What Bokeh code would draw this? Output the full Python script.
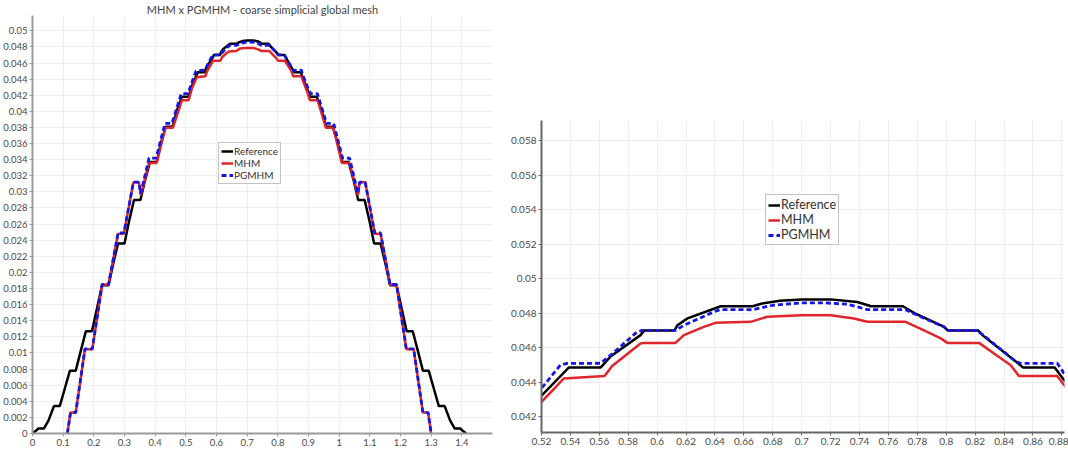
from bokeh.plotting import figure
from bokeh.layouts import row, column
from bokeh.models import FixedTicker, CustomJSTickFormatter, Legend, LegendItem, Spacer
from bokeh.embed import file_html
from bokeh.resources import INLINE

# Profiles along the diagonal cut
ref_x = [0.000, 0.010, 0.019, 0.037, 0.052, 0.070, 0.089, 0.104, 0.122, 0.141,
         0.157, 0.174, 0.194, 0.210, 0.227, 0.248, 0.262, 0.279, 0.300, 0.314,
         0.331, 0.352, 0.366, 0.383, 0.405, 0.418, 0.435, 0.457, 0.470, 0.487,
         0.509, 0.520, 0.539, 0.561, 0.568, 0.5885, 0.591, 0.612, 0.614, 0.621,
         0.644, 0.666, 0.672, 0.685, 0.700, 0.720, 0.7385, 0.748, 0.770, 0.778,
         0.7985, 0.801, 0.822, 0.825, 0.847, 0.853, 0.875, 0.8815, 0.894, 0.905,
         0.927, 0.944, 0.957, 0.979, 0.996, 1.009, 1.031, 1.048, 1.062, 1.083,
         1.100, 1.114, 1.135, 1.152, 1.166, 1.187, 1.204, 1.220, 1.240, 1.257,
         1.273, 1.292, 1.310, 1.325, 1.344, 1.362, 1.377, 1.395, 1.404, 1.414]
ref_y = [0.0000, 0.0003, 0.00062, 0.00062, 0.0016, 0.0034, 0.0034, 0.0054, 0.0078, 0.0078,
         0.0102, 0.0127, 0.0127, 0.0155, 0.0184, 0.0184, 0.0209, 0.0236, 0.0236, 0.0262,
         0.0290, 0.0290, 0.0313, 0.0337, 0.0337, 0.0360, 0.0381, 0.0381, 0.0400, 0.0418,
         0.0418, 0.04322, 0.04486, 0.04486, 0.04551, 0.04673, 0.0470, 0.0470, 0.0473, 0.0477,
         0.0484, 0.0484, 0.04855, 0.04872, 0.0488, 0.0488, 0.04865, 0.0484, 0.0484, 0.0480,
         0.04721, 0.0470, 0.0470, 0.04673, 0.04528, 0.04486, 0.04486, 0.04413, 0.0430, 0.0418,
         0.0418, 0.0400, 0.0381, 0.0381, 0.0360, 0.0337, 0.0337, 0.0313, 0.0290, 0.0290,
         0.0262, 0.0236, 0.0236, 0.0209, 0.0184, 0.0184, 0.0155, 0.0127, 0.0127, 0.0102,
         0.0078, 0.0078, 0.0054, 0.0034, 0.0034, 0.0016, 0.00062, 0.00062, 0.0003, 0.0000]

mhm_x = [0.1137, 0.124, 0.141, 0.171, 0.195, 0.227, 0.248, 0.279, 0.298, 0.329,
         0.347, 0.353, 0.380, 0.405, 0.433, 0.458, 0.487, 0.509, 0.520, 0.5297,
         0.5354, 0.5636, 0.5689, 0.5885, 0.5906, 0.6127, 0.6185, 0.6323, 0.6404, 0.6646,
         0.6762, 0.700, 0.720, 0.7361, 0.7454, 0.7719, 0.7846, 0.7962, 0.8008, 0.8227,
         0.833, 0.8446, 0.8503, 0.8768, 0.8815, 0.895, 0.905, 0.930, 0.957, 0.981,
         1.009, 1.034, 1.061, 1.067, 1.085, 1.116, 1.135, 1.166, 1.187, 1.219,
         1.243, 1.273, 1.290, 1.300]
mhm_y = [0.0, 0.0026, 0.0026, 0.01046, 0.01046, 0.0185, 0.0185, 0.0248, 0.0248, 0.0312,
         0.0312, 0.0296, 0.0336, 0.0336, 0.03795, 0.03795, 0.04137, 0.04137, 0.04287, 0.04371,
         0.04422, 0.04436, 0.04494, 0.04625, 0.04628, 0.04628, 0.04673, 0.04721, 0.04744, 0.0475,
         0.04779, 0.04788, 0.04788, 0.04769, 0.0475, 0.0475, 0.0470, 0.04654, 0.04628, 0.04628,
         0.04567, 0.04499, 0.04436, 0.04436, 0.04384, 0.0425, 0.04137, 0.04137, 0.03795, 0.03795,
         0.0336, 0.0336, 0.0296, 0.0312, 0.0312, 0.0248, 0.0248, 0.0185, 0.0185, 0.01046,
         0.01046, 0.0026, 0.0026, 0.0]

pg_x = [0.1137, 0.124, 0.141, 0.171, 0.195, 0.227, 0.248, 0.279, 0.298, 0.329,
        0.347, 0.353, 0.380, 0.403, 0.432, 0.455, 0.485, 0.507, 0.520, 0.533,
        0.5378, 0.5608, 0.5678, 0.5862, 0.5896, 0.6127, 0.6185, 0.6392, 0.6439, 0.6658,
        0.680, 0.700, 0.715, 0.7315, 0.7454, 0.7719, 0.7823, 0.7985, 0.8008, 0.8215,
        0.8284, 0.8469, 0.8515, 0.8768, 0.8815, 0.895, 0.907, 0.929, 0.959, 0.982,
        1.011, 1.034, 1.061, 1.067, 1.085, 1.116, 1.135, 1.166, 1.187, 1.219,
        1.243, 1.273, 1.290, 1.300]
pg_y = [0.0, 0.0026, 0.0026, 0.0105, 0.0105, 0.0185, 0.0185, 0.0249, 0.0249, 0.0312,
        0.0312, 0.0298, 0.0342, 0.0342, 0.0385, 0.0385, 0.0422, 0.0422, 0.04365, 0.04499,
        0.04509, 0.0451, 0.04557, 0.04692, 0.0470, 0.0470, 0.0473, 0.04808, 0.04821, 0.0482,
        0.04846, 0.0486, 0.0486, 0.04852, 0.04821, 0.0482, 0.04779, 0.04721, 0.0470, 0.0470,
        0.04654, 0.04528, 0.04509, 0.0451, 0.04451, 0.0432, 0.0422, 0.0422, 0.0385, 0.0385,
        0.0342, 0.0342, 0.0298, 0.0312, 0.0312, 0.0249, 0.0249, 0.0185, 0.0185, 0.0105,
        0.0105, 0.0026, 0.0026, 0.0]

series_names = ["Reference", "MHM", "PGMHM"]

left_xticks = [round(0.1 * i, 1) for i in range(0, 15)]
left_xgrid = [round(0.1 * i, 1) for i in range(0, 16)]
left_yticks = [round(0.002 * i, 3) for i in range(0, 26)]
right_xticks = [round(0.52 + 0.02 * i, 2) for i in range(0, 19)]
right_yticks = [round(0.042 + 0.002 * i, 3) for i in range(0, 9)]

FONT = "Lato"
fmt_code = "return Number(tick.toFixed(6)).toString();"


def style(p, xt, xg, yt, axis_color, font_size):
    p.outline_line_color = None
    p.background_fill_color = "white"
    p.border_fill_color = "white"
    for ax in (p.xaxis, p.yaxis):
        ax.axis_line_color = axis_color
        ax.axis_line_width = 2
        ax.major_tick_line_color = axis_color
        ax.major_tick_out = 3
        ax.major_tick_in = 0
        ax.minor_tick_line_color = None
        ax.major_label_text_font = FONT
        ax.major_label_text_font_size = font_size
        ax.major_label_text_color = "#4a4a4a"
        ax.major_label_standoff = 2
        ax.formatter = CustomJSTickFormatter(code=fmt_code)
    p.xaxis.ticker = FixedTicker(ticks=xt)
    p.yaxis.ticker = FixedTicker(ticks=yt)
    p.xgrid.ticker = FixedTicker(ticks=xg)
    p.ygrid.ticker = FixedTicker(ticks=yt)
    p.grid.grid_line_color = "#eeeeee"
    p.grid.grid_line_width = 1


def draw(p):
    r1 = p.line(ref_x, ref_y, line_color="black", line_width=2.5)
    r2 = p.line(mhm_x, mhm_y, line_color="#e0262b", line_width=2.5)
    r3 = p.line(pg_x, pg_y, line_color="#1515e6", line_width=2.8, line_dash="5 3")
    return [r1, r2, r3]


def add_legend(p, renderers, loc, font_size, row_h):
    items = [LegendItem(label=n, renderers=[r]) for n, r in zip(series_names, renderers)]
    lg = Legend(items=items, location=loc, margin=0, padding=2, spacing=0,
                label_standoff=1, glyph_width=12, glyph_height=row_h, label_height=row_h,
                label_text_font=FONT, label_text_font_size=font_size,
                label_text_color="#333333", border_line_color="#888888",
                border_line_width=1, background_fill_color="white",
                background_fill_alpha=1.0)
    p.add_layout(lg, "center")


# Full profile
p1 = figure(width=500, height=449, x_range=(0, 1.5), y_range=(0, 0.0519),
            output_backend="svg", toolbar_location=None,
            min_border_left=30, min_border_right=8, min_border_top=14, min_border_bottom=16,
            title="MHM x PGMHM - coarse simplicial global mesh")
p1.title.text_font = FONT
p1.title.text_font_size = "11px"
p1.title.text_font_style = "normal"
p1.title.text_color = "#444444"
p1.title.align = "center"
p1.title.standoff = 0
style(p1, left_xticks, left_xgrid, left_yticks, "#9a9a9a", "9.5px")
rs1 = draw(p1)
add_legend(p1, rs1, (186, 249), "10px", 12)

# Close-up of the peak
p2 = figure(width=568, height=349, x_range=(0.52, 0.8818), y_range=(0.04109, 0.05916),
            output_backend="svg", toolbar_location=None,
            min_border_left=41, min_border_right=4, min_border_top=20, min_border_bottom=17)
style(p2, right_xticks, right_xticks, right_yticks, "#666666", "10px")
rs2 = draw(p2)
add_legend(p2, rs2, (224, 187), "12.5px", 14)

layout = row(p1, column(Spacer(width=568, height=100), p2))
open("out.html", "w").write(file_html(layout, INLINE))
